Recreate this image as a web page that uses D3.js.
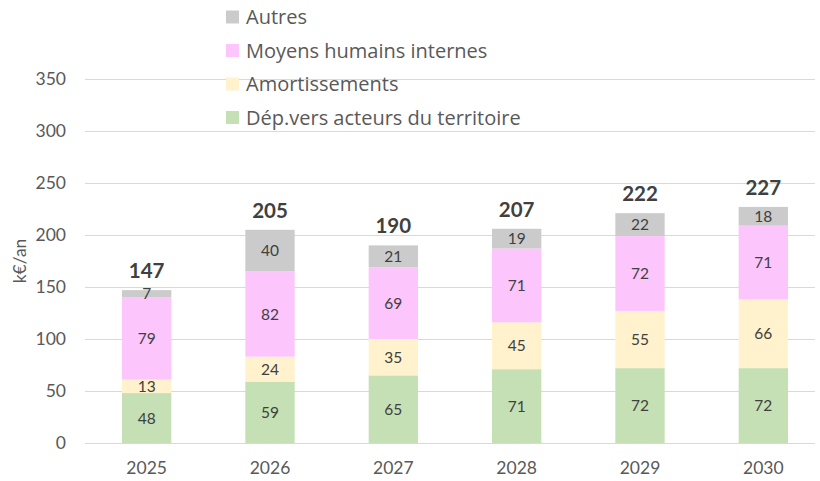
<!DOCTYPE html>
<html>
<head>
<meta charset="utf-8">
<script src="https://cdn.jsdelivr.net/npm/d3@7"></script>
<style>
  body { margin: 0; background: #fff; }
  text { font-family: Lato, "Open Sans", sans-serif; fill: #595959; }
</style>
</head>
<body>
<svg id="chart" width="820" height="481"></svg>
<script>
const years = ["2025", "2026", "2027", "2028", "2029", "2030"];
const seriesNames = ["Dép.vers acteurs du territoire", "Amortissements", "Moyens humains internes", "Autres"];
const depActeurs = [48, 59, 65, 71, 72, 72];
const amortissements = [13, 24, 35, 45, 55, 66];
const moyensHumains = [79, 82, 69, 71, 72, 71];
const autres = [7, 40, 21, 19, 22, 18];
const totals = [147, 205, 190, 207, 222, 227];
const yTicks = [0, 50, 100, 150, 200, 250, 300, 350];
const colors = ["#c5e0b4", "#fff2cc", "#fcc6fc", "#cbcbcb"];

const svg = d3.select("#chart");
const margin = {left: 85, right: 0, top: 79, bottom: 38};
const W = 820, H = 481;

const rows = years.map((y, i) => ({
    year: y,
    [seriesNames[0]]: depActeurs[i],
    [seriesNames[1]]: amortissements[i],
    [seriesNames[2]]: moyensHumains[i],
    [seriesNames[3]]: autres[i],
    total: totals[i]
}));

const x = d3.scaleBand().domain(years).range([margin.left, 825]).paddingInner(0.6).paddingOuter(0.3);
const y = d3.scaleLinear().domain([0, 350]).range([H - margin.bottom, margin.top]);

// gridlines
svg.append("g").selectAll("line")
    .data(yTicks)
    .enter()
    .append("line")
    .attr("x1", margin.left)
    .attr("x2", 815)
    .attr("y1", d => Math.round(y(d)) + 0.5)
    .attr("y2", d => Math.round(y(d)) + 0.5)
    .attr("stroke", "#d9d9d9")
    .attr("stroke-width", 1);

// y axis labels
svg.append("g").selectAll("text")
    .data(yTicks)
    .enter()
    .append("text")
    .attr("x", 66)
    .attr("y", d => y(d))
    .attr("dy", "0.35em")
    .attr("text-anchor", "end")
    .style("font-size", "17.5px")
    .text(d => d);

svg.append("text")
    .attr("transform", `translate(26, ${y(175)}) rotate(-90)`)
    .attr("text-anchor", "middle")
    .style("font-size", "17.5px")
    .text("k€/an");

// stacked bars
const stack = d3.stack().keys(seriesNames)(rows);

const layers = svg.append("g").selectAll("g")
    .data(stack)
    .enter()
    .append("g")
    .attr("fill", (d, i) => colors[i]);

layers.selectAll("rect")
    .data(d => d)
    .enter()
    .append("rect")
    .attr("x", d => x(d.data.year))
    .attr("width", x.bandwidth())
    .attr("y", d => y(d[1]))
    .attr("height", d => y(d[0]) - y(d[1]));

layers.selectAll("text")
    .data(d => d)
    .enter()
    .append("text")
    .attr("x", d => x(d.data.year) + x.bandwidth() / 2)
    .attr("y", d => (y(d[0]) + y(d[1])) / 2)
    .attr("dy", "0.36em")
    .attr("text-anchor", "middle")
    .style("font-size", "15.5px")
    .style("fill", "#404040")
    .text(d => d[1] - d[0]);

// totals
svg.append("g").selectAll("text")
    .data(rows)
    .enter()
    .append("text")
    .attr("x", d => x(d.year) + x.bandwidth() / 2)
    .attr("y", d => y(d[seriesNames[0]] + d[seriesNames[1]] + d[seriesNames[2]] + d[seriesNames[3]]) - 12)
    .attr("text-anchor", "middle")
    .style("font-size", "20.5px")
    .style("font-weight", "bold")
    .style("fill", "#404040")
    .text(d => d.total);

// x axis labels
svg.append("g").selectAll("text")
    .data(years)
    .enter()
    .append("text")
    .attr("x", d => x(d) + x.bandwidth() / 2)
    .attr("y", 474)
    .attr("text-anchor", "middle")
    .style("font-size", "17.5px")
    .text(d => d);

// legend, top to bottom in reverse stack order
const legendItems = seriesNames.map((n, i) => ({name: n, color: colors[i]})).reverse();
const legend = svg.append("g").selectAll("g")
    .data(legendItems)
    .enter()
    .append("g")
    .attr("transform", (d, i) => `translate(226, ${17 + i * 33.5})`);

legend.append("rect")
    .attr("x", 0)
    .attr("y", -6.5)
    .attr("width", 13)
    .attr("height", 13)
    .attr("fill", d => d.color);

legend.append("text")
    .attr("x", 20)
    .attr("y", 0)
    .attr("dy", "0.36em")
    .style("font-family", "'Open Sans', sans-serif")
    .style("font-size", "20px")
    .text(d => d.name);
</script>
</body>
</html>
